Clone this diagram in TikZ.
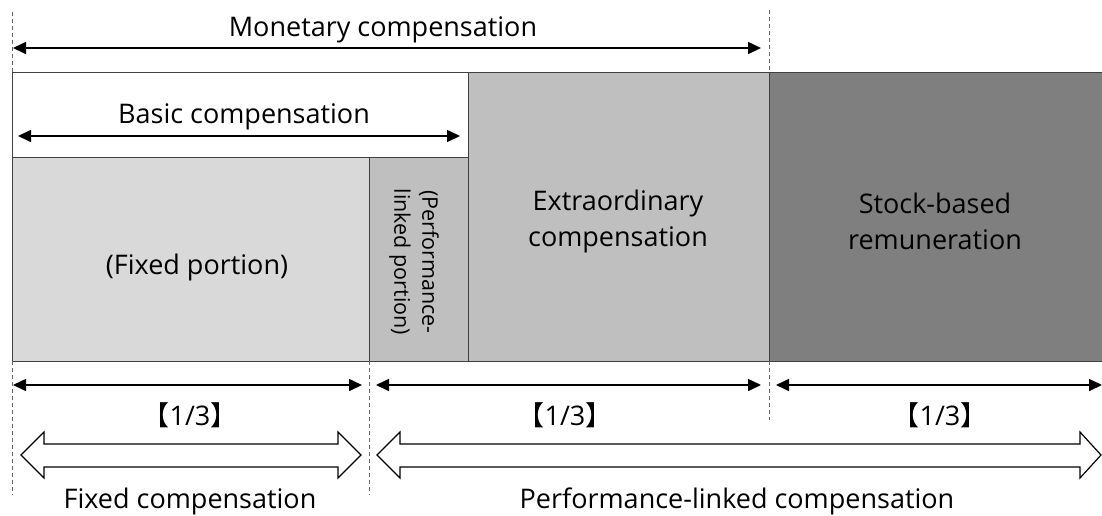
\documentclass[tikz,border=0pt]{standalone}
\usepackage{fontspec}
\setmainfont{Open Sans}
\newfontfamily\cjk{Noto Sans CJK JP}
\usetikzlibrary{arrows.meta}
\definecolor{fixgray}{HTML}{D9D9D9}
\definecolor{midgray}{HTML}{BFBFBF}
\definecolor{stockgray}{HTML}{7F7F7F}
\begin{document}
\begin{tikzpicture}[x=1pt,y=-1pt,
  box/.style={draw=black!75, line width=1pt},
  dim/.style={{Triangle[length=13pt,width=12pt]}-{Triangle[length=13pt,width=12pt]}, line width=1.6pt, shorten <=0pt, shorten >=0pt},
  guide/.style={draw=black!60, line width=0.8pt, dash pattern=on 4pt off 3pt},
  lbl/.style={font=\fontsize{27}{36}\selectfont, inner sep=0pt, text=black},
  small/.style={font=\fontsize{21.5}{28}\selectfont},
  barrow/.style={draw=black, line width=1.2pt, fill=white}]
\useasboundingbox (0,0) rectangle (1102,515);
% boxes
\draw[box, fill=white] (12,72) rectangle (468,157);
\draw[box, fill=fixgray] (12,157) rectangle (369,361);
\draw[box, fill=midgray] (369,157) rectangle (468,361);
\draw[box, fill=midgray] (468,72) rectangle (769,361);
\draw[box, fill=stockgray] (769,72) rectangle (1104,361);
% guides
\coordinate (gL1) at (12,12);  \coordinate (gL2) at (12,72);
\coordinate (gL3) at (12,361); \coordinate (gL4) at (12,495);
\coordinate (gM1) at (769,10); \coordinate (gM2) at (769,72);
\coordinate (gM3) at (769,361); \coordinate (gM4) at (769,420);
\coordinate (gF1) at (369,361); \coordinate (gF2) at (369,495);
\draw[guide] (gL1) -- (gL2);
\draw[guide] (gL3) -- (gL4);
\draw[guide] (gM1) -- (gM2);
\draw[guide] (gM3) -- (gM4);
\draw[guide] (gF1) -- (gF2);
% texts
\node[lbl] (mon) at (383,30) {Monetary compensation};
\node[lbl] (basic) at (244,117) {Basic compensation};
\node[lbl] (fixp) at (197,267) {(Fixed portion)};
\node[lbl, small, rotate=-90, align=center] (perfp) at (414,262) {(Performance-\\linked portion)};
\node[lbl, align=center] (extra) at (618,221) {Extraordinary\\compensation};
\node[lbl, align=center] (stock) at (935,221) {Stock-based\\remuneration};
\node[lbl] (t1) at (190,415) {{\cjk 【}1/3{\cjk 】}};
\node[lbl] (t2) at (565,415) {{\cjk 【}1/3{\cjk 】}};
\node[lbl] (t3) at (940,415) {{\cjk 【}1/3{\cjk 】}};
\node[lbl] (fixc) at (190,501) {Fixed compensation};
\node[lbl] (perfc) at (737,501) {Performance-linked compensation};
% dimension arrows
\coordinate (m1) at (13,48);  \coordinate (m2) at (761,48);
\coordinate (b1) at (18,136); \coordinate (b2) at (460,136);
\coordinate (d1a) at (13,385); \coordinate (d1b) at (362,385);
\coordinate (d2a) at (376,385); \coordinate (d2b) at (761,385);
\coordinate (d3a) at (776,385); \coordinate (d3b) at (1102,385);
\draw[dim] (m1) -- (m2);
\draw[dim] (b1) -- (b2);
\draw[dim] (d1a) -- (d1b);
\draw[dim] (d2a) -- (d2b);
\draw[dim] (d3a) -- (d3b);
% block arrows
\draw[barrow] (21,455) -- (44,432) -- (44,444) -- (338,444) -- (338,432) -- (361,455) -- (338,478) -- (338,467) -- (44,467) -- (44,478) -- cycle;
\draw[barrow] (377,455) -- (400,432) -- (400,444) -- (1080,444) -- (1080,432) -- (1101,455) -- (1080,478) -- (1080,467) -- (400,467) -- (400,478) -- cycle;
\end{tikzpicture}
\end{document}
